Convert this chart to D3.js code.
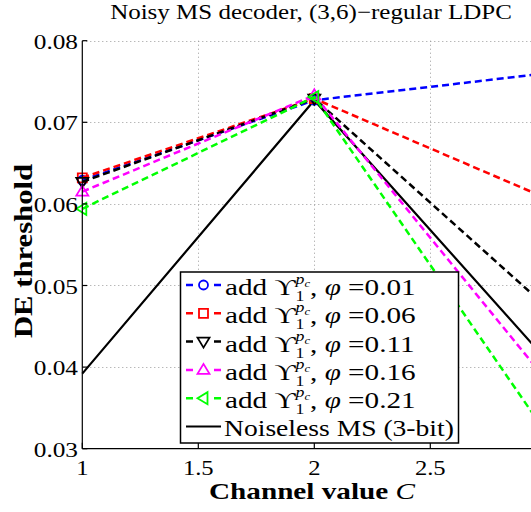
<!DOCTYPE html>
<html>
<head>
<meta charset="utf-8">
<script src="https://cdn.jsdelivr.net/npm/d3@7"></script>
<style>
  body { margin: 0; background: #fff; }
  text { font-family: "Liberation Serif", "Times New Roman", "DejaVu Serif", serif; fill: #000; }
</style>
</head>
<body>
<div id="chart"></div>
<script>
// channel values on the x axis
var channelValues = [1, 2, 3];
var phiValues = [0.01, 0.06, 0.11, 0.16, 0.21];
// DE thresholds of the noisy decoder, one row per phi
var noisyThresholds = [
    [0.0629, 0.0727, 0.0760],
    [0.0632, 0.0729, 0.0607],
    [0.0627, 0.0729, 0.0474],
    [0.0615, 0.0733, 0.0384],
    [0.0594, 0.0731, 0.0319]
];
var noiselessThresholds = [0.0392, 0.0727, 0.0409];
var xTicks = [1, 1.5, 2, 2.5];
var yTicks = [0.03, 0.04, 0.05, 0.06, 0.07, 0.08];
var seriesColors = ["#0000ff", "#ff0000", "#000000", "#ff00ff", "#00ff00"];
var seriesMarkers = ["circle", "square", "down", "up", "left"];

var width = 531, height = 512;
var x = d3.scaleLinear().domain([1, 3]).range([82.3, 546.3]);
var y = d3.scaleLinear().domain([0.03, 0.08]).range([448.7, 40.7]);

var svg = d3.select("#chart").append("svg")
    .attr("width", width).attr("height", height);

svg.append("defs").append("clipPath").attr("id", "plotclip")
  .append("rect")
    .attr("x", x(1) - 8).attr("y", y(0.08) - 8)
    .attr("width", x(3) - x(1) + 16).attr("height", y(0.03) - y(0.08) + 8);

// dotted grid
var grid = svg.append("g").attr("stroke", "#9a9a9a").attr("stroke-width", 1)
    .attr("stroke-dasharray", "1,3");
grid.selectAll("line.vx").data(xTicks.slice(1)).enter().append("line")
    .attr("x1", function(d) { return Math.round(x(d)) + 0.5; })
    .attr("x2", function(d) { return Math.round(x(d)) + 0.5; })
    .attr("y1", y(0.08)).attr("y2", y(0.03));
grid.selectAll("line.hy").data(yTicks.slice(1)).enter().append("line")
    .attr("y1", function(d) { return Math.round(y(d)) + 0.5; })
    .attr("y2", function(d) { return Math.round(y(d)) + 0.5; })
    .attr("x1", x(1)).attr("x2", x(3));

function markerPath(type, cx, cy) {
    if (type === "circle") {
        return "M" + (cx + 4.5) + "," + cy + "A4.5,4.5 0 1,1 " + (cx - 4.5) + "," + cy +
               "A4.5,4.5 0 1,1 " + (cx + 4.5) + "," + cy + "Z";
    }
    if (type === "square") {
        return "M" + (cx - 4.5) + "," + (cy - 4.5) + "h9v9h-9Z";
    }
    if (type === "down") {
        return "M" + (cx - 6) + "," + (cy - 4) + "L" + (cx + 6) + "," + (cy - 4) +
               "L" + cx + "," + (cy + 6) + "Z";
    }
    if (type === "up") {
        return "M" + (cx - 6) + "," + (cy + 4) + "L" + (cx + 6) + "," + (cy + 4) +
               "L" + cx + "," + (cy - 6) + "Z";
    }
    return "M" + (cx + 4) + "," + (cy - 6) + "L" + (cx + 4) + "," + (cy + 6) +
           "L" + (cx - 6) + "," + cy + "Z";
}

var plot = svg.append("g").attr("clip-path", "url(#plotclip)");
var line = d3.line()
    .x(function(d, i) { return x(channelValues[i]); })
    .y(function(d) { return y(d); });

plot.append("path").datum(noiselessThresholds)
    .attr("d", line).attr("fill", "none")
    .attr("stroke", "#000").attr("stroke-width", 2.2);

var series = plot.selectAll("g.series").data(noisyThresholds).enter()
  .append("g").attr("class", "series");
series.append("path")
    .attr("d", function(d) { return line(d); })
    .attr("fill", "none")
    .attr("stroke", function(d, i) { return seriesColors[i]; })
    .attr("stroke-width", 2.5)
    .attr("stroke-dasharray", "7,4");
series.each(function(row, i) {
    d3.select(this).selectAll("path.mk").data(row).enter().append("path")
        .attr("class", "mk")
        .attr("d", function(d, j) { return markerPath(seriesMarkers[i], x(channelValues[j]), y(d)); })
        .attr("fill", "none")
        .attr("stroke", seriesColors[i])
        .attr("stroke-width", 1.8);
});

// axes
var axes = svg.append("g").attr("stroke", "#000").attr("stroke-width", 1.2);
axes.append("line").attr("x1", x(1)).attr("x2", x(1)).attr("y1", y(0.08)).attr("y2", y(0.03));
axes.append("line").attr("x1", x(1)).attr("x2", x(3)).attr("y1", y(0.03)).attr("y2", y(0.03));
axes.selectAll("line.yt").data(yTicks).enter().append("line")
    .attr("x1", x(1)).attr("x2", x(1) + 5)
    .attr("y1", function(d) { return y(d); }).attr("y2", function(d) { return y(d); });
axes.selectAll("line.xt").data(xTicks).enter().append("line")
    .attr("x1", function(d) { return x(d); }).attr("x2", function(d) { return x(d); })
    .attr("y1", y(0.03)).attr("y2", y(0.03) - 6);

// text helper: put text in a group stretched horizontally
function stretched(parent, tx, ty, sx, rot) {
    var g = parent.append("g")
        .attr("transform", "translate(" + tx + "," + ty + ")" + (rot ? " rotate(" + rot + ")" : "") +
              " scale(" + sx + ",1)");
    return g.append("text");
}

yTicks.forEach(function(d) {
    stretched(svg, 78, y(d) + 8, 1.15).attr("text-anchor", "end")
        .style("font-size", "22px").text(d.toFixed(2));
});
xTicks.forEach(function(d) {
    stretched(svg, x(d), 475, 1.12).attr("text-anchor", "middle")
        .style("font-size", "22px").text(d);
});

stretched(svg, 311, 19, 1.19).attr("text-anchor", "middle")
    .style("font-size", "21px").text("Noisy MS decoder, (3,6)\u2212regular LDPC");

var xl = stretched(svg, 312, 499, 1.27).attr("text-anchor", "middle")
    .style("font-size", "23px").style("font-weight", "bold");
xl.append("tspan").text("Channel value ");
xl.append("tspan").style("font-style", "italic").style("font-weight", "normal").text("C");

stretched(svg, 32, 251, 1.18, -90).attr("text-anchor", "middle")
    .style("font-size", "26px").style("font-weight", "bold").text("DE threshold");

// legend
var legend = svg.append("g");
legend.append("rect")
    .attr("x", 180.5).attr("y", 272).attr("width", 278).attr("height", 171)
    .attr("fill", "#fff").attr("stroke", "#000").attr("stroke-width", 1.5);

var rowY = function(i) { return 285 + i * 28.3; };
phiValues.forEach(function(phi, i) {
    var cy = rowY(i);
    legend.append("line")
        .attr("x1", 186).attr("x2", 221).attr("y1", cy).attr("y2", cy)
        .attr("stroke", seriesColors[i]).attr("stroke-width", 2.5)
        .attr("stroke-dasharray", "7,21,7");
    legend.append("path")
        .attr("d", markerPath(seriesMarkers[i], 203.5, cy))
        .attr("fill", "none").attr("stroke", seriesColors[i]).attr("stroke-width", 1.8);
    var t = stretched(legend, 225, cy + 10, 1.27).style("font-size", "23px");
    t.append("tspan").text("add \u03D2");
    t.append("tspan").attr("dy", 6).style("font-size", "14px").text("1");
    t.append("tspan").attr("dx", -7).attr("dy", -17).style("font-size", "14px")
        .style("font-style", "italic").text("p");
    t.append("tspan").attr("dy", 3).style("font-size", "10px").style("font-style", "italic").text("c");
    t.append("tspan").attr("dy", 8).text(", ");
    t.append("tspan").style("font-style", "italic").text("\u03C6");
    t.append("tspan").text(" =" + phi.toFixed(2));
});
var cy6 = rowY(5);
legend.append("line")
    .attr("x1", 186).attr("x2", 221).attr("y1", cy6).attr("y2", cy6)
    .attr("stroke", "#000").attr("stroke-width", 2.2);
stretched(legend, 224, cy6 + 9, 1.2).style("font-size", "23px").text("Noiseless MS (3-bit)");
</script>
</body>
</html>
